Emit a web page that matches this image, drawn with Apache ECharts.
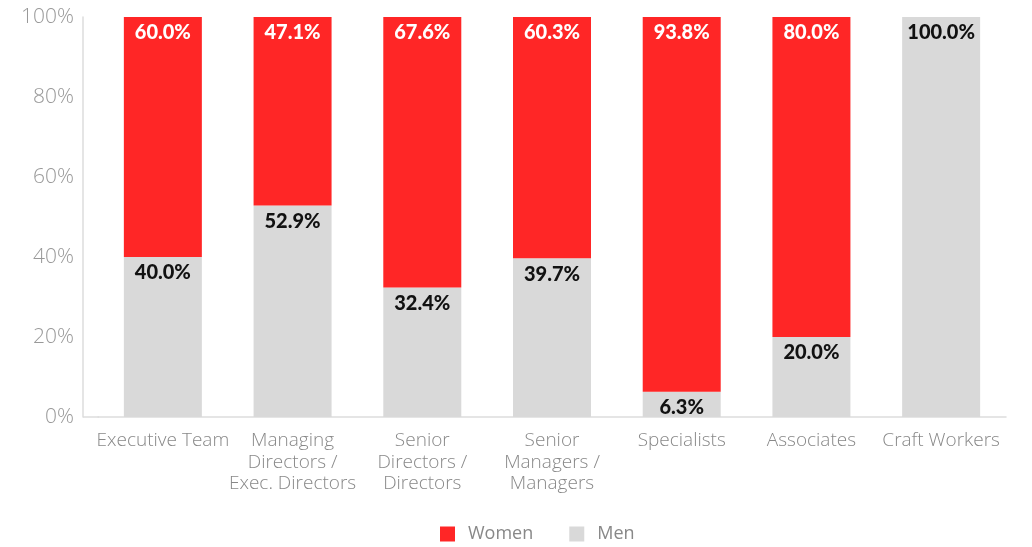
<!DOCTYPE html>
<html><head><meta charset="utf-8">
<script src="https://cdn.jsdelivr.net/npm/echarts@6/dist/echarts.min.js"></script>
<style>html,body{margin:0;padding:0;background:#fff}#c{width:1032px;height:547px}</style>
</head><body><div id="c"></div>
<script>
const categories = ['Executive Team', 'Managing\nDirectors /\nExec. Directors', 'Senior\nDirectors /\nDirectors', 'Senior\nManagers /\nManagers', 'Specialists', 'Associates', 'Craft Workers'];
const women = [60.0, 47.1, 67.6, 60.3, 93.8, 80.0, 0];
const men = [40.0, 52.9, 32.4, 39.7, 6.3, 20.0, 100.0];
const yTicks = [0, 20, 40, 60, 80, 100];

const chart = echarts.init(document.getElementById('c'));
const labelFont = { fontFamily: 'Lato', fontWeight: 900, fontSize: 20 };
chart.setOption({
  animation: false,
  grid: { left: 98, right: 26, top: 17, bottom: 130 },
  legend: {
    data: ['Women', 'Men'], top: 520, left: 435, itemWidth: 15, itemHeight: 15, itemGap: 36,
    icon: 'rect', textStyle: { color: '#888', fontSize: 18, fontFamily: 'Open Sans', padding: [0, 0, 0, 8] }
  },
  xAxis: {
    type: 'category', data: categories,
    axisLine: { lineStyle: { color: '#ddd', width: 1.5 } },
    axisTick: { show: false },
    axisLabel: { color: '#888', fontSize: 19, fontFamily: 'Open Sans', fontWeight: 300, lineHeight: 21.5, margin: 13, interval: 0 }
  },
  yAxis: {
    type: 'value', min: 0, max: 100, interval: 20, offset: 15,
    axisLine: { show: true, lineStyle: { color: '#ddd', width: 1.5 } },
    axisTick: { show: false },
    splitLine: { show: false },
    axisLabel: { color: '#999', fontSize: 21, fontFamily: 'Open Sans', fontWeight: 300, margin: 9,
      formatter: v => yTicks.includes(v) ? v + '%' : '' }
  },
  graphic: [{ type: 'line', shape: { x1: 83, y1: 417, x2: 99, y2: 417 }, style: { stroke: '#ddd', lineWidth: 1.5 } }],
  series: [
    { name: 'Men', type: 'bar', stack: 's', data: men, barWidth: 78, itemStyle: { color: '#D9D9D9' },
      label: { show: true, position: 'insideTop', distance: 6, color: '#111', ...labelFont,
        formatter: p => p.value > 0 ? p.value.toFixed(1) + '%' : '' } },
    { name: 'Women', type: 'bar', stack: 's', data: women, barWidth: 78, itemStyle: { color: '#FF2626' },
      label: { show: true, position: 'insideTop', distance: 6, color: '#fff', ...labelFont,
        formatter: p => p.value > 0 ? p.value.toFixed(1) + '%' : '' } }
  ]
});
</script></body></html>
